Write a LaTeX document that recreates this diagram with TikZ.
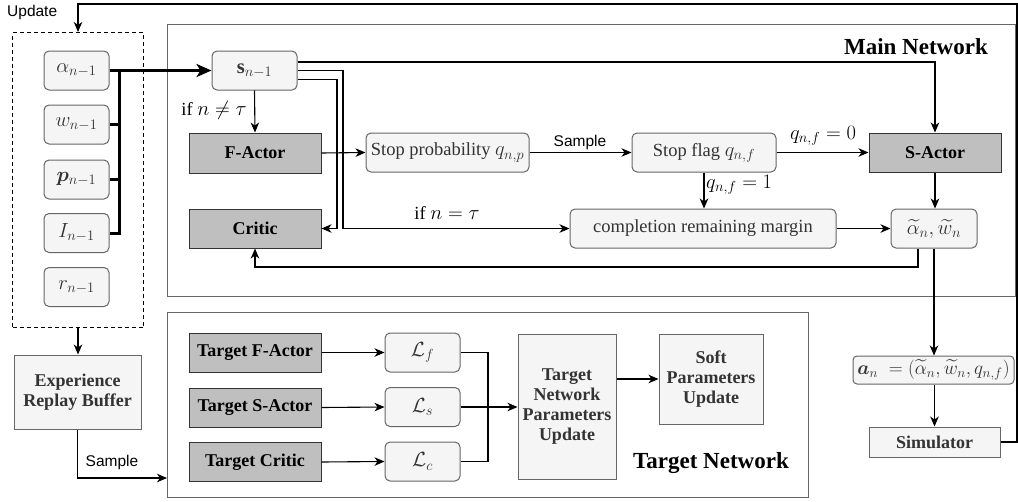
\RequirePackage{fix-cm}
\documentclass[tikz,border=0pt]{standalone}
\usepackage{amsmath,bm}
\usepackage{fontspec}
\setmainfont{Liberation Serif}
\newfontfamily\labsans{Liberation Sans}
\DeclareMathSizes{18.5}{20.5}{14.5}{11}
\DeclareMathSizes{18}{19.3}{13.6}{10}
\usetikzlibrary{arrows.meta}
\definecolor{lfill}{HTML}{F5F5F5}
\definecolor{lborder}{HTML}{666666}
\definecolor{ltext}{HTML}{333333}
\definecolor{dfill}{HTML}{BFBFBF}
\definecolor{dborder}{HTML}{333333}
\tikzset{
  base/.style={inner sep=0pt, align=center, font=\fontsize{18.5}{21}\selectfont, line width=1pt},
  lbox/.style={base, draw=lborder, fill=lfill, text=ltext, rounded corners=5pt},
  dbox/.style={base, draw=dborder, fill=dfill, text=black, font=\fontsize{18}{21}\selectfont\bfseries},
  gbox/.style={base, draw=lborder, fill=lfill, text=ltext, font=\fontsize{18}{20}\selectfont\bfseries},
  frame/.style={draw=lborder, line width=1pt, inner sep=0pt},
  arr/.style={-{Stealth[length=10pt,width=8.5pt,inset=3pt]}, line width=1.1pt},
  ln/.style={line width=1.1pt},
  bus/.style={line width=3pt},
  lab/.style={font=\fontsize{18.5}{21}\selectfont, inner sep=1pt},
  slab/.style={font=\labsans\fontsize{15.5}{18}\selectfont, inner sep=1pt},
  title/.style={font=\fontsize{23}{26}\selectfont\bfseries, inner sep=0pt},
}
\begin{document}
\begin{tikzpicture}[x=1pt,y=-1pt]
\useasboundingbox (0,0) rectangle (1018,501);
% frames
\node[frame, minimum width=848pt, minimum height=272pt, anchor=north west] (mainnet) at (167,24) {};
\node[frame, minimum width=641pt, minimum height=185pt, anchor=north west] (tgtnet) at (167,312) {};
\node[draw, line width=1pt, dash pattern=on 4pt off 3pt, inner sep=0pt, minimum width=131pt, minimum height=295pt, anchor=north west] (mem) at (12,32) {};
\node[title, anchor=east] (mtitle) at (988,47) {Main Network};
\node[title] (ttitle) at (711,463) {Target Network};
% memory entries
\node[lbox, minimum width=65pt, minimum height=39pt] (alpha) at (76.5,70.5) {$\alpha_{n-1}$};
\node[lbox, minimum width=65pt, minimum height=39pt] (w) at (76.5,124.5) {$w_{n-1}$};
\node[lbox, minimum width=65pt, minimum height=39pt] (p) at (76.5,179.5) {$\boldsymbol{p}_{n-1}$};
\node[lbox, minimum width=65pt, minimum height=39pt] (I) at (76.5,233) {$I_{n-1}$};
\node[lbox, minimum width=65pt, minimum height=39pt] (r) at (76.5,287) {$r_{n-1}$};
% main network
\node[lbox, minimum width=85pt, minimum height=39pt] (s) at (254.5,70.5) {$\mathbf{s}_{n-1}$};
\node[dbox, minimum width=132pt, minimum height=40pt] (factor) at (255,153) {F-Actor};
\node[dbox, minimum width=132pt, minimum height=39pt] (critic) at (255,228.5) {Critic};
\node[lbox, minimum width=163pt, minimum height=39pt] (stopp) at (447.5,152.5) {Stop probability $q_{n,p}$};
\node[lbox, minimum width=144pt, minimum height=39pt] (stopf) at (704,152.5) {Stop flag $q_{n,f}$};
\node[dbox, minimum width=132pt, minimum height=39pt] (sactor) at (935,152.5) {S-Actor};
\node[lbox, minimum width=266pt, minimum height=39pt] (compl) at (703,228.5) {completion remaining margin};
\node[lbox, minimum width=86pt, minimum height=39pt] (alw) at (934,228.5) {$\widetilde{\alpha}_n, \widetilde{w}_n$};
% outside
\node[lbox, minimum width=161pt, minimum height=28pt, rounded corners=4pt, font=\fontsize{18}{21}\selectfont] (action) at (933.5,370) {$\boldsymbol{a}_n\;= (\widetilde{\alpha}_n, \widetilde{w}_n, q_{n,f})$};
\node[gbox, minimum width=131pt, minimum height=30pt] (sim) at (934.5,442) {Simulator};
\node[gbox, minimum width=127pt, minimum height=74pt] (buffer) at (77.5,392) {Experience\\Replay Buffer};
% target network
\node[dbox, minimum width=132pt, minimum height=39pt] (tfa) at (255,352.5) {Target F-Actor};
\node[dbox, minimum width=132pt, minimum height=39pt] (tsa) at (255,407.5) {Target S-Actor};
\node[dbox, minimum width=132pt, minimum height=39pt] (tcr) at (255,462) {Target Critic};
\node[lbox, minimum width=75pt, minimum height=39pt] (Lf) at (422.5,352.5) {$\mathcal{L}_f$};
\node[lbox, minimum width=75pt, minimum height=39pt] (Ls) at (422.5,407) {$\mathcal{L}_s$};
\node[lbox, minimum width=75pt, minimum height=39pt] (Lc) at (422.5,461.5) {$\mathcal{L}_c$};
\node[gbox, minimum width=98pt, minimum height=145pt] (tnpu) at (567,406.5) {Target\\Network\\Parameters\\Update};
\node[gbox, minimum width=104pt, minimum height=90pt] (soft) at (711,379) {Soft\\Parameters\\Update};
% coordinates
\coordinate (busx) at (119,0);
\coordinate (jin) at (337,0);
\coordinate (jout) at (343,0);
\coordinate (fb) at (0,267);
\coordinate (upr) at (1017,4);
\coordinate (samp) at (0,478);
\coordinate (mrg) at (488,0);
% update loop
\draw[arr] (sim.east) -- (sim.east -| upr) -- (upr) -- (upr -| mem.north) -- (mem.north);
\node[slab, anchor=west] (updlab) at (6,12) {Update};
% bus
\draw[bus, -{Stealth[length=15pt,width=13pt,inset=4pt]}] (alpha.east) -- (s.west);
\draw[bus] (alpha.east -| busx) -- (I.east -| busx) -- (I.east);
\draw[bus] (w.east) -- (w.east -| busx);
\draw[bus] (p.east) -- (p.east -| busx);
% main network connectors
\draw[arr] (s.south) -- (factor.north);
\node[lab] (neq) at (214,110) {if $n \neq \tau$};
\draw[arr] ([yshift=8.5pt]s.east) -| (sactor.north);
\draw[arr] (s.east) -- (s.east -| jout) |- (compl.west);
\draw[arr] ([yshift=-9pt]s.east) -| (jin |- critic.east) -- (critic.east);
\node[lab] (eqt) at (447,213) {if $n = \tau$};
\draw[arr] (factor.east) -- (stopp.west);
\draw[arr] (stopp.east) -- (stopf.west);
\node[slab] (samplab) at (580,142) {Sample};
\draw[arr] (stopf.east) -- (sactor.west);
\node[lab] (q0) at (823,136) {$q_{n,f} = 0$};
\draw[arr] (stopf.south) -- (compl.north -| stopf.south);
\node[lab, anchor=west] (q1) at (705,185) {$q_{n,f} = 1$};
\draw[arr] (compl.east) -- (alw.west);
\draw[arr] (sactor.south) -- (alw.north -| sactor.south);
\draw[arr] ([xshift=-16pt]alw.south) |- (critic.south |- fb) -- (critic.south);
\draw[arr] (alw.south) -- (action.north -| alw.south);
\draw[arr] (action.south -| sim.north) -- (sim.north);
% buffer
\draw[arr] (mem.south) -- (buffer.north -| mem.south);
\draw[arr] (buffer.south) |- (tgtnet.west |- samp);
\node[slab] (samplab2) at (112,462) {Sample};
% target network connectors
\draw[arr] (tfa.east) -- (Lf.west);
\draw[arr] (tsa.east) -- (Ls.west);
\draw[arr] (tcr.east) -- (Lc.west);
\draw[ln] (Lf.east) -- (Lf.east -| mrg) -- (Lc.east -| mrg) -- (Lc.east);
\draw[arr] (Ls.east) -- (tnpu.west |- Ls.east);
\draw[arr] (tnpu.east |- soft.west) -- (soft.west);
\end{tikzpicture}
\end{document}
